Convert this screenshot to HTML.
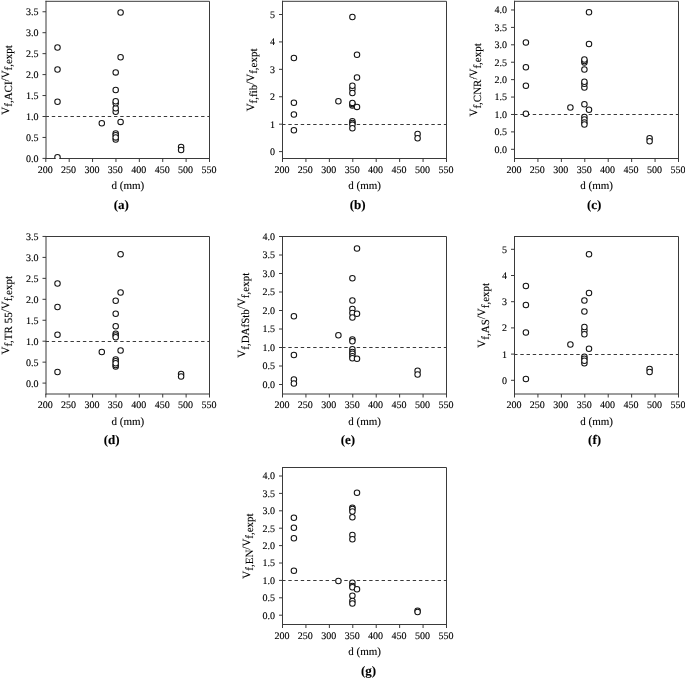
<!DOCTYPE html>
<html><head><meta charset="utf-8"><style>
html,body{margin:0;padding:0;background:#fff;}
svg{display:block;will-change:transform;}
text{font-family:"Liberation Serif",serif;fill:#000;stroke:#000;stroke-width:0.12px;text-rendering:geometricPrecision;}
</style></head><body>
<svg width="685" height="679" viewBox="0 0 685 679">
<rect width="685" height="679" fill="#fff"/>
<g><clipPath id="ca"><rect x="45.50" y="0.80" width="164.50" height="158.20"/></clipPath><line x1="45.60" y1="116.50" x2="209.50" y2="116.50" stroke="#3a3a3a" stroke-width="1" stroke-dasharray="3.4,2.82"/><path d="M45.50 1.30H209.50V159.00" fill="none" stroke="#3a3a3a" stroke-width="1"/><path d="M45.50 158.50H210.00" fill="none" stroke="#3a3a3a" stroke-width="1"/><path d="M46.00 0.80V159.00" fill="none" stroke="#3a3a3a" stroke-width="1"/><line x1="42.50" y1="158.40" x2="46.00" y2="158.40" stroke="#3a3a3a" stroke-width="1"/><text x="38.60" y="161.80" text-anchor="end" font-size="10">0.0</text><line x1="42.50" y1="137.45" x2="46.00" y2="137.45" stroke="#3a3a3a" stroke-width="1"/><text x="38.60" y="140.85" text-anchor="end" font-size="10">0.5</text><line x1="42.50" y1="116.50" x2="46.00" y2="116.50" stroke="#3a3a3a" stroke-width="1"/><text x="38.60" y="119.90" text-anchor="end" font-size="10">1.0</text><line x1="42.50" y1="95.55" x2="46.00" y2="95.55" stroke="#3a3a3a" stroke-width="1"/><text x="38.60" y="98.95" text-anchor="end" font-size="10">1.5</text><line x1="42.50" y1="74.60" x2="46.00" y2="74.60" stroke="#3a3a3a" stroke-width="1"/><text x="38.60" y="78.00" text-anchor="end" font-size="10">2.0</text><line x1="42.50" y1="53.65" x2="46.00" y2="53.65" stroke="#3a3a3a" stroke-width="1"/><text x="38.60" y="57.05" text-anchor="end" font-size="10">2.5</text><line x1="42.50" y1="32.70" x2="46.00" y2="32.70" stroke="#3a3a3a" stroke-width="1"/><text x="38.60" y="36.10" text-anchor="end" font-size="10">3.0</text><line x1="42.50" y1="11.75" x2="46.00" y2="11.75" stroke="#3a3a3a" stroke-width="1"/><text x="38.60" y="15.15" text-anchor="end" font-size="10">3.5</text><line x1="45.80" y1="158.50" x2="45.80" y2="162.00" stroke="#3a3a3a" stroke-width="1"/><text x="45.20" y="172.60" text-anchor="middle" font-size="10">200</text><line x1="69.19" y1="158.50" x2="69.19" y2="162.00" stroke="#3a3a3a" stroke-width="1"/><text x="68.59" y="172.60" text-anchor="middle" font-size="10">250</text><line x1="92.57" y1="158.50" x2="92.57" y2="162.00" stroke="#3a3a3a" stroke-width="1"/><text x="91.97" y="172.60" text-anchor="middle" font-size="10">300</text><line x1="115.96" y1="158.50" x2="115.96" y2="162.00" stroke="#3a3a3a" stroke-width="1"/><text x="115.36" y="172.60" text-anchor="middle" font-size="10">350</text><line x1="139.34" y1="158.50" x2="139.34" y2="162.00" stroke="#3a3a3a" stroke-width="1"/><text x="138.74" y="172.60" text-anchor="middle" font-size="10">400</text><line x1="162.73" y1="158.50" x2="162.73" y2="162.00" stroke="#3a3a3a" stroke-width="1"/><text x="162.13" y="172.60" text-anchor="middle" font-size="10">450</text><line x1="186.11" y1="158.50" x2="186.11" y2="162.00" stroke="#3a3a3a" stroke-width="1"/><text x="185.51" y="172.60" text-anchor="middle" font-size="10">500</text><line x1="209.50" y1="158.50" x2="209.50" y2="162.00" stroke="#3a3a3a" stroke-width="1"/><text x="208.90" y="172.60" text-anchor="middle" font-size="10">550</text><text x="127.95" y="189.00" text-anchor="middle" font-size="11">d (mm)</text><text x="121.30" y="208.60" text-anchor="middle" font-size="13" font-weight="bold">(a)</text><text transform="translate(8.80,79.90) rotate(-90)" text-anchor="middle" font-size="11">V<tspan font-size="11" dy="3.5">f,ACI</tspan><tspan dy="-3.5">/V</tspan><tspan font-size="11" dy="3.5">f,expt</tspan></text><g clip-path="url(#ca)"><circle cx="57.50" cy="47.50" r="2.74" fill="#fff" stroke="#151515" stroke-width="1.06"/><circle cx="57.50" cy="69.50" r="2.74" fill="#fff" stroke="#151515" stroke-width="1.06"/><circle cx="57.50" cy="101.75" r="2.74" fill="#fff" stroke="#151515" stroke-width="1.06"/><circle cx="57.50" cy="157.20" r="2.74" fill="#fff" stroke="#151515" stroke-width="1.06"/><circle cx="101.80" cy="123.20" r="2.74" fill="#fff" stroke="#151515" stroke-width="1.06"/><circle cx="115.70" cy="72.40" r="2.74" fill="#fff" stroke="#151515" stroke-width="1.06"/><circle cx="115.70" cy="90.00" r="2.74" fill="#fff" stroke="#151515" stroke-width="1.06"/><circle cx="115.70" cy="111.80" r="2.74" fill="#fff" stroke="#151515" stroke-width="1.06"/><circle cx="115.70" cy="108.30" r="2.74" fill="#fff" stroke="#151515" stroke-width="1.06"/><circle cx="115.70" cy="103.30" r="2.74" fill="#fff" stroke="#151515" stroke-width="1.06"/><circle cx="115.70" cy="101.20" r="2.74" fill="#fff" stroke="#151515" stroke-width="1.06"/><circle cx="115.70" cy="139.60" r="2.74" fill="#fff" stroke="#151515" stroke-width="1.06"/><circle cx="115.70" cy="133.40" r="2.74" fill="#fff" stroke="#151515" stroke-width="1.06"/><circle cx="115.70" cy="135.30" r="2.74" fill="#fff" stroke="#151515" stroke-width="1.06"/><circle cx="115.70" cy="137.40" r="2.74" fill="#fff" stroke="#151515" stroke-width="1.06"/><circle cx="120.60" cy="12.50" r="2.74" fill="#fff" stroke="#151515" stroke-width="1.06"/><circle cx="120.60" cy="57.25" r="2.74" fill="#fff" stroke="#151515" stroke-width="1.06"/><circle cx="120.60" cy="121.90" r="2.74" fill="#fff" stroke="#151515" stroke-width="1.06"/><circle cx="181.10" cy="147.00" r="2.74" fill="#fff" stroke="#151515" stroke-width="1.06"/><circle cx="181.10" cy="150.00" r="2.74" fill="#fff" stroke="#151515" stroke-width="1.06"/></g></g>
<g><clipPath id="cb"><rect x="282.00" y="0.80" width="165.00" height="158.20"/></clipPath><line x1="282.10" y1="124.50" x2="446.50" y2="124.50" stroke="#3a3a3a" stroke-width="1" stroke-dasharray="3.4,2.82"/><path d="M282.00 1.30H446.50V159.00" fill="none" stroke="#3a3a3a" stroke-width="1"/><path d="M282.00 158.50H447.00" fill="none" stroke="#3a3a3a" stroke-width="1"/><path d="M282.50 0.80V159.00" fill="none" stroke="#3a3a3a" stroke-width="1"/><line x1="279.00" y1="151.60" x2="282.50" y2="151.60" stroke="#3a3a3a" stroke-width="1"/><text x="275.10" y="155.00" text-anchor="end" font-size="10">0</text><line x1="279.00" y1="124.18" x2="282.50" y2="124.18" stroke="#3a3a3a" stroke-width="1"/><text x="275.10" y="127.58" text-anchor="end" font-size="10">1</text><line x1="279.00" y1="96.76" x2="282.50" y2="96.76" stroke="#3a3a3a" stroke-width="1"/><text x="275.10" y="100.16" text-anchor="end" font-size="10">2</text><line x1="279.00" y1="69.34" x2="282.50" y2="69.34" stroke="#3a3a3a" stroke-width="1"/><text x="275.10" y="72.74" text-anchor="end" font-size="10">3</text><line x1="279.00" y1="41.92" x2="282.50" y2="41.92" stroke="#3a3a3a" stroke-width="1"/><text x="275.10" y="45.32" text-anchor="end" font-size="10">4</text><line x1="279.00" y1="14.50" x2="282.50" y2="14.50" stroke="#3a3a3a" stroke-width="1"/><text x="275.10" y="17.90" text-anchor="end" font-size="10">5</text><line x1="282.50" y1="158.50" x2="282.50" y2="162.00" stroke="#3a3a3a" stroke-width="1"/><text x="281.90" y="172.60" text-anchor="middle" font-size="10">200</text><line x1="305.93" y1="158.50" x2="305.93" y2="162.00" stroke="#3a3a3a" stroke-width="1"/><text x="305.33" y="172.60" text-anchor="middle" font-size="10">250</text><line x1="329.36" y1="158.50" x2="329.36" y2="162.00" stroke="#3a3a3a" stroke-width="1"/><text x="328.76" y="172.60" text-anchor="middle" font-size="10">300</text><line x1="352.79" y1="158.50" x2="352.79" y2="162.00" stroke="#3a3a3a" stroke-width="1"/><text x="352.19" y="172.60" text-anchor="middle" font-size="10">350</text><line x1="376.21" y1="158.50" x2="376.21" y2="162.00" stroke="#3a3a3a" stroke-width="1"/><text x="375.61" y="172.60" text-anchor="middle" font-size="10">400</text><line x1="399.64" y1="158.50" x2="399.64" y2="162.00" stroke="#3a3a3a" stroke-width="1"/><text x="399.04" y="172.60" text-anchor="middle" font-size="10">450</text><line x1="423.07" y1="158.50" x2="423.07" y2="162.00" stroke="#3a3a3a" stroke-width="1"/><text x="422.47" y="172.60" text-anchor="middle" font-size="10">500</text><line x1="446.50" y1="158.50" x2="446.50" y2="162.00" stroke="#3a3a3a" stroke-width="1"/><text x="445.90" y="172.60" text-anchor="middle" font-size="10">550</text><text x="364.70" y="189.00" text-anchor="middle" font-size="11">d (mm)</text><text x="357.70" y="208.60" text-anchor="middle" font-size="13" font-weight="bold">(b)</text><text transform="translate(253.85,79.90) rotate(-90)" text-anchor="middle" font-size="11">V<tspan font-size="11" dy="3.5">f,fib</tspan><tspan dy="-3.5">/V</tspan><tspan font-size="11" dy="3.5">f,expt</tspan></text><g clip-path="url(#cb)"><circle cx="293.90" cy="58.00" r="2.74" fill="#fff" stroke="#151515" stroke-width="1.06"/><circle cx="293.90" cy="102.75" r="2.74" fill="#fff" stroke="#151515" stroke-width="1.06"/><circle cx="293.90" cy="114.50" r="2.74" fill="#fff" stroke="#151515" stroke-width="1.06"/><circle cx="293.90" cy="130.25" r="2.74" fill="#fff" stroke="#151515" stroke-width="1.06"/><circle cx="338.40" cy="101.20" r="2.74" fill="#fff" stroke="#151515" stroke-width="1.06"/><circle cx="352.40" cy="17.00" r="2.74" fill="#fff" stroke="#151515" stroke-width="1.06"/><circle cx="352.40" cy="89.00" r="2.74" fill="#fff" stroke="#151515" stroke-width="1.06"/><circle cx="352.40" cy="93.00" r="2.74" fill="#fff" stroke="#151515" stroke-width="1.06"/><circle cx="352.40" cy="85.80" r="2.74" fill="#fff" stroke="#151515" stroke-width="1.06"/><circle cx="352.40" cy="105.40" r="2.74" fill="#fff" stroke="#151515" stroke-width="1.06"/><circle cx="352.40" cy="104.10" r="2.74" fill="#fff" stroke="#151515" stroke-width="1.06"/><circle cx="352.40" cy="102.90" r="2.74" fill="#fff" stroke="#151515" stroke-width="1.06"/><circle cx="352.40" cy="121.20" r="2.74" fill="#fff" stroke="#151515" stroke-width="1.06"/><circle cx="352.40" cy="123.00" r="2.74" fill="#fff" stroke="#151515" stroke-width="1.06"/><circle cx="352.40" cy="124.60" r="2.74" fill="#fff" stroke="#151515" stroke-width="1.06"/><circle cx="352.40" cy="128.30" r="2.74" fill="#fff" stroke="#151515" stroke-width="1.06"/><circle cx="357.00" cy="54.75" r="2.74" fill="#fff" stroke="#151515" stroke-width="1.06"/><circle cx="357.00" cy="77.50" r="2.74" fill="#fff" stroke="#151515" stroke-width="1.06"/><circle cx="357.00" cy="106.90" r="2.74" fill="#fff" stroke="#151515" stroke-width="1.06"/><circle cx="417.60" cy="134.00" r="2.74" fill="#fff" stroke="#151515" stroke-width="1.06"/><circle cx="417.60" cy="138.25" r="2.74" fill="#fff" stroke="#151515" stroke-width="1.06"/></g></g>
<g><clipPath id="cc"><rect x="514.00" y="0.80" width="165.00" height="158.20"/></clipPath><line x1="514.10" y1="114.50" x2="678.50" y2="114.50" stroke="#3a3a3a" stroke-width="1" stroke-dasharray="3.4,2.82"/><path d="M514.00 1.30H678.50V159.00" fill="none" stroke="#3a3a3a" stroke-width="1"/><path d="M514.00 158.50H679.00" fill="none" stroke="#3a3a3a" stroke-width="1"/><path d="M514.50 0.80V159.00" fill="none" stroke="#3a3a3a" stroke-width="1"/><line x1="511.00" y1="149.30" x2="514.50" y2="149.30" stroke="#3a3a3a" stroke-width="1"/><text x="507.10" y="152.70" text-anchor="end" font-size="10">0.0</text><line x1="511.00" y1="131.89" x2="514.50" y2="131.89" stroke="#3a3a3a" stroke-width="1"/><text x="507.10" y="135.29" text-anchor="end" font-size="10">0.5</text><line x1="511.00" y1="114.47" x2="514.50" y2="114.47" stroke="#3a3a3a" stroke-width="1"/><text x="507.10" y="117.87" text-anchor="end" font-size="10">1.0</text><line x1="511.00" y1="97.06" x2="514.50" y2="97.06" stroke="#3a3a3a" stroke-width="1"/><text x="507.10" y="100.46" text-anchor="end" font-size="10">1.5</text><line x1="511.00" y1="79.64" x2="514.50" y2="79.64" stroke="#3a3a3a" stroke-width="1"/><text x="507.10" y="83.04" text-anchor="end" font-size="10">2.0</text><line x1="511.00" y1="62.23" x2="514.50" y2="62.23" stroke="#3a3a3a" stroke-width="1"/><text x="507.10" y="65.63" text-anchor="end" font-size="10">2.5</text><line x1="511.00" y1="44.81" x2="514.50" y2="44.81" stroke="#3a3a3a" stroke-width="1"/><text x="507.10" y="48.21" text-anchor="end" font-size="10">3.0</text><line x1="511.00" y1="27.40" x2="514.50" y2="27.40" stroke="#3a3a3a" stroke-width="1"/><text x="507.10" y="30.80" text-anchor="end" font-size="10">3.5</text><line x1="511.00" y1="9.98" x2="514.50" y2="9.98" stroke="#3a3a3a" stroke-width="1"/><text x="507.10" y="13.38" text-anchor="end" font-size="10">4.0</text><line x1="514.50" y1="158.50" x2="514.50" y2="162.00" stroke="#3a3a3a" stroke-width="1"/><text x="513.90" y="172.60" text-anchor="middle" font-size="10">200</text><line x1="537.93" y1="158.50" x2="537.93" y2="162.00" stroke="#3a3a3a" stroke-width="1"/><text x="537.33" y="172.60" text-anchor="middle" font-size="10">250</text><line x1="561.36" y1="158.50" x2="561.36" y2="162.00" stroke="#3a3a3a" stroke-width="1"/><text x="560.76" y="172.60" text-anchor="middle" font-size="10">300</text><line x1="584.79" y1="158.50" x2="584.79" y2="162.00" stroke="#3a3a3a" stroke-width="1"/><text x="584.19" y="172.60" text-anchor="middle" font-size="10">350</text><line x1="608.21" y1="158.50" x2="608.21" y2="162.00" stroke="#3a3a3a" stroke-width="1"/><text x="607.61" y="172.60" text-anchor="middle" font-size="10">400</text><line x1="631.64" y1="158.50" x2="631.64" y2="162.00" stroke="#3a3a3a" stroke-width="1"/><text x="631.04" y="172.60" text-anchor="middle" font-size="10">450</text><line x1="655.07" y1="158.50" x2="655.07" y2="162.00" stroke="#3a3a3a" stroke-width="1"/><text x="654.47" y="172.60" text-anchor="middle" font-size="10">500</text><line x1="678.50" y1="158.50" x2="678.50" y2="162.00" stroke="#3a3a3a" stroke-width="1"/><text x="677.90" y="172.60" text-anchor="middle" font-size="10">550</text><text x="596.70" y="189.00" text-anchor="middle" font-size="11">d (mm)</text><text x="594.10" y="208.60" text-anchor="middle" font-size="13" font-weight="bold">(c)</text><text transform="translate(477.00,79.90) rotate(-90)" text-anchor="middle" font-size="11">V<tspan font-size="11" dy="3.5">f,CNR</tspan><tspan dy="-3.5">/V</tspan><tspan font-size="11" dy="3.5">f,expt</tspan></text><g clip-path="url(#cc)"><circle cx="525.90" cy="42.50" r="2.74" fill="#fff" stroke="#151515" stroke-width="1.06"/><circle cx="525.90" cy="67.25" r="2.74" fill="#fff" stroke="#151515" stroke-width="1.06"/><circle cx="525.90" cy="85.75" r="2.74" fill="#fff" stroke="#151515" stroke-width="1.06"/><circle cx="525.90" cy="113.75" r="2.74" fill="#fff" stroke="#151515" stroke-width="1.06"/><circle cx="570.40" cy="107.50" r="2.74" fill="#fff" stroke="#151515" stroke-width="1.06"/><circle cx="584.40" cy="62.50" r="2.74" fill="#fff" stroke="#151515" stroke-width="1.06"/><circle cx="584.40" cy="61.00" r="2.74" fill="#fff" stroke="#151515" stroke-width="1.06"/><circle cx="584.40" cy="59.50" r="2.74" fill="#fff" stroke="#151515" stroke-width="1.06"/><circle cx="584.40" cy="69.50" r="2.74" fill="#fff" stroke="#151515" stroke-width="1.06"/><circle cx="584.40" cy="87.50" r="2.74" fill="#fff" stroke="#151515" stroke-width="1.06"/><circle cx="584.40" cy="83.75" r="2.74" fill="#fff" stroke="#151515" stroke-width="1.06"/><circle cx="584.40" cy="81.75" r="2.74" fill="#fff" stroke="#151515" stroke-width="1.06"/><circle cx="584.40" cy="104.25" r="2.74" fill="#fff" stroke="#151515" stroke-width="1.06"/><circle cx="584.40" cy="117.00" r="2.74" fill="#fff" stroke="#151515" stroke-width="1.06"/><circle cx="584.40" cy="119.50" r="2.74" fill="#fff" stroke="#151515" stroke-width="1.06"/><circle cx="584.40" cy="122.50" r="2.74" fill="#fff" stroke="#151515" stroke-width="1.06"/><circle cx="584.40" cy="124.50" r="2.74" fill="#fff" stroke="#151515" stroke-width="1.06"/><circle cx="589.00" cy="12.25" r="2.74" fill="#fff" stroke="#151515" stroke-width="1.06"/><circle cx="589.00" cy="44.00" r="2.74" fill="#fff" stroke="#151515" stroke-width="1.06"/><circle cx="589.00" cy="109.75" r="2.74" fill="#fff" stroke="#151515" stroke-width="1.06"/><circle cx="649.60" cy="138.20" r="2.74" fill="#fff" stroke="#151515" stroke-width="1.06"/><circle cx="649.60" cy="141.20" r="2.74" fill="#fff" stroke="#151515" stroke-width="1.06"/></g></g>
<g><clipPath id="cd"><rect x="45.50" y="236.00" width="164.50" height="158.50"/></clipPath><line x1="45.60" y1="341.50" x2="209.50" y2="341.50" stroke="#3a3a3a" stroke-width="1" stroke-dasharray="3.4,2.82"/><path d="M45.50 236.50H209.50V394.50" fill="none" stroke="#3a3a3a" stroke-width="1"/><path d="M45.50 394.00H210.00" fill="none" stroke="#3a3a3a" stroke-width="1"/><path d="M46.00 236.00V394.50" fill="none" stroke="#3a3a3a" stroke-width="1"/><line x1="42.50" y1="383.10" x2="46.00" y2="383.10" stroke="#3a3a3a" stroke-width="1"/><text x="38.60" y="386.50" text-anchor="end" font-size="10">0.0</text><line x1="42.50" y1="362.15" x2="46.00" y2="362.15" stroke="#3a3a3a" stroke-width="1"/><text x="38.60" y="365.55" text-anchor="end" font-size="10">0.5</text><line x1="42.50" y1="341.20" x2="46.00" y2="341.20" stroke="#3a3a3a" stroke-width="1"/><text x="38.60" y="344.60" text-anchor="end" font-size="10">1.0</text><line x1="42.50" y1="320.25" x2="46.00" y2="320.25" stroke="#3a3a3a" stroke-width="1"/><text x="38.60" y="323.65" text-anchor="end" font-size="10">1.5</text><line x1="42.50" y1="299.30" x2="46.00" y2="299.30" stroke="#3a3a3a" stroke-width="1"/><text x="38.60" y="302.70" text-anchor="end" font-size="10">2.0</text><line x1="42.50" y1="278.35" x2="46.00" y2="278.35" stroke="#3a3a3a" stroke-width="1"/><text x="38.60" y="281.75" text-anchor="end" font-size="10">2.5</text><line x1="42.50" y1="257.40" x2="46.00" y2="257.40" stroke="#3a3a3a" stroke-width="1"/><text x="38.60" y="260.80" text-anchor="end" font-size="10">3.0</text><line x1="42.50" y1="236.45" x2="46.00" y2="236.45" stroke="#3a3a3a" stroke-width="1"/><text x="38.60" y="239.85" text-anchor="end" font-size="10">3.5</text><line x1="45.80" y1="394.00" x2="45.80" y2="397.50" stroke="#3a3a3a" stroke-width="1"/><text x="45.20" y="408.10" text-anchor="middle" font-size="10">200</text><line x1="69.19" y1="394.00" x2="69.19" y2="397.50" stroke="#3a3a3a" stroke-width="1"/><text x="68.59" y="408.10" text-anchor="middle" font-size="10">250</text><line x1="92.57" y1="394.00" x2="92.57" y2="397.50" stroke="#3a3a3a" stroke-width="1"/><text x="91.97" y="408.10" text-anchor="middle" font-size="10">300</text><line x1="115.96" y1="394.00" x2="115.96" y2="397.50" stroke="#3a3a3a" stroke-width="1"/><text x="115.36" y="408.10" text-anchor="middle" font-size="10">350</text><line x1="139.34" y1="394.00" x2="139.34" y2="397.50" stroke="#3a3a3a" stroke-width="1"/><text x="138.74" y="408.10" text-anchor="middle" font-size="10">400</text><line x1="162.73" y1="394.00" x2="162.73" y2="397.50" stroke="#3a3a3a" stroke-width="1"/><text x="162.13" y="408.10" text-anchor="middle" font-size="10">450</text><line x1="186.11" y1="394.00" x2="186.11" y2="397.50" stroke="#3a3a3a" stroke-width="1"/><text x="185.51" y="408.10" text-anchor="middle" font-size="10">500</text><line x1="209.50" y1="394.00" x2="209.50" y2="397.50" stroke="#3a3a3a" stroke-width="1"/><text x="208.90" y="408.10" text-anchor="middle" font-size="10">550</text><text x="127.95" y="424.50" text-anchor="middle" font-size="11">d (mm)</text><text x="111.60" y="444.10" text-anchor="middle" font-size="13" font-weight="bold">(d)</text><text transform="translate(8.80,315.25) rotate(-90)" text-anchor="middle" font-size="11">V<tspan font-size="11" dy="3.5">f,TR 55</tspan><tspan dy="-3.5">/V</tspan><tspan font-size="11" dy="3.5">f,expt</tspan></text><g clip-path="url(#cd)"><circle cx="57.50" cy="283.50" r="2.74" fill="#fff" stroke="#151515" stroke-width="1.06"/><circle cx="57.50" cy="307.00" r="2.74" fill="#fff" stroke="#151515" stroke-width="1.06"/><circle cx="57.50" cy="334.75" r="2.74" fill="#fff" stroke="#151515" stroke-width="1.06"/><circle cx="57.50" cy="372.00" r="2.74" fill="#fff" stroke="#151515" stroke-width="1.06"/><circle cx="101.80" cy="352.00" r="2.74" fill="#fff" stroke="#151515" stroke-width="1.06"/><circle cx="115.70" cy="300.75" r="2.74" fill="#fff" stroke="#151515" stroke-width="1.06"/><circle cx="115.70" cy="313.75" r="2.74" fill="#fff" stroke="#151515" stroke-width="1.06"/><circle cx="115.70" cy="326.25" r="2.74" fill="#fff" stroke="#151515" stroke-width="1.06"/><circle cx="115.70" cy="333.75" r="2.74" fill="#fff" stroke="#151515" stroke-width="1.06"/><circle cx="115.70" cy="335.50" r="2.74" fill="#fff" stroke="#151515" stroke-width="1.06"/><circle cx="115.70" cy="337.25" r="2.74" fill="#fff" stroke="#151515" stroke-width="1.06"/><circle cx="115.70" cy="366.50" r="2.74" fill="#fff" stroke="#151515" stroke-width="1.06"/><circle cx="115.70" cy="365.00" r="2.74" fill="#fff" stroke="#151515" stroke-width="1.06"/><circle cx="115.70" cy="359.50" r="2.74" fill="#fff" stroke="#151515" stroke-width="1.06"/><circle cx="115.70" cy="361.25" r="2.74" fill="#fff" stroke="#151515" stroke-width="1.06"/><circle cx="115.70" cy="363.20" r="2.74" fill="#fff" stroke="#151515" stroke-width="1.06"/><circle cx="120.60" cy="254.25" r="2.74" fill="#fff" stroke="#151515" stroke-width="1.06"/><circle cx="120.60" cy="292.50" r="2.74" fill="#fff" stroke="#151515" stroke-width="1.06"/><circle cx="120.60" cy="350.50" r="2.74" fill="#fff" stroke="#151515" stroke-width="1.06"/><circle cx="181.10" cy="374.00" r="2.74" fill="#fff" stroke="#151515" stroke-width="1.06"/><circle cx="181.10" cy="376.50" r="2.74" fill="#fff" stroke="#151515" stroke-width="1.06"/></g></g>
<g><clipPath id="ce"><rect x="282.00" y="236.00" width="165.00" height="158.50"/></clipPath><line x1="282.10" y1="347.50" x2="446.50" y2="347.50" stroke="#3a3a3a" stroke-width="1" stroke-dasharray="3.4,2.82"/><path d="M282.00 236.50H446.50V394.50" fill="none" stroke="#3a3a3a" stroke-width="1"/><path d="M282.00 394.00H447.00" fill="none" stroke="#3a3a3a" stroke-width="1"/><path d="M282.50 236.00V394.50" fill="none" stroke="#3a3a3a" stroke-width="1"/><line x1="279.00" y1="384.50" x2="282.50" y2="384.50" stroke="#3a3a3a" stroke-width="1"/><text x="275.10" y="387.90" text-anchor="end" font-size="10">0.0</text><line x1="279.00" y1="366.00" x2="282.50" y2="366.00" stroke="#3a3a3a" stroke-width="1"/><text x="275.10" y="369.40" text-anchor="end" font-size="10">0.5</text><line x1="279.00" y1="347.50" x2="282.50" y2="347.50" stroke="#3a3a3a" stroke-width="1"/><text x="275.10" y="350.90" text-anchor="end" font-size="10">1.0</text><line x1="279.00" y1="329.00" x2="282.50" y2="329.00" stroke="#3a3a3a" stroke-width="1"/><text x="275.10" y="332.40" text-anchor="end" font-size="10">1.5</text><line x1="279.00" y1="310.50" x2="282.50" y2="310.50" stroke="#3a3a3a" stroke-width="1"/><text x="275.10" y="313.90" text-anchor="end" font-size="10">2.0</text><line x1="279.00" y1="292.00" x2="282.50" y2="292.00" stroke="#3a3a3a" stroke-width="1"/><text x="275.10" y="295.40" text-anchor="end" font-size="10">2.5</text><line x1="279.00" y1="273.50" x2="282.50" y2="273.50" stroke="#3a3a3a" stroke-width="1"/><text x="275.10" y="276.90" text-anchor="end" font-size="10">3.0</text><line x1="279.00" y1="255.00" x2="282.50" y2="255.00" stroke="#3a3a3a" stroke-width="1"/><text x="275.10" y="258.40" text-anchor="end" font-size="10">3.5</text><line x1="279.00" y1="236.50" x2="282.50" y2="236.50" stroke="#3a3a3a" stroke-width="1"/><text x="275.10" y="239.90" text-anchor="end" font-size="10">4.0</text><line x1="282.50" y1="394.00" x2="282.50" y2="397.50" stroke="#3a3a3a" stroke-width="1"/><text x="281.90" y="408.10" text-anchor="middle" font-size="10">200</text><line x1="305.93" y1="394.00" x2="305.93" y2="397.50" stroke="#3a3a3a" stroke-width="1"/><text x="305.33" y="408.10" text-anchor="middle" font-size="10">250</text><line x1="329.36" y1="394.00" x2="329.36" y2="397.50" stroke="#3a3a3a" stroke-width="1"/><text x="328.76" y="408.10" text-anchor="middle" font-size="10">300</text><line x1="352.79" y1="394.00" x2="352.79" y2="397.50" stroke="#3a3a3a" stroke-width="1"/><text x="352.19" y="408.10" text-anchor="middle" font-size="10">350</text><line x1="376.21" y1="394.00" x2="376.21" y2="397.50" stroke="#3a3a3a" stroke-width="1"/><text x="375.61" y="408.10" text-anchor="middle" font-size="10">400</text><line x1="399.64" y1="394.00" x2="399.64" y2="397.50" stroke="#3a3a3a" stroke-width="1"/><text x="399.04" y="408.10" text-anchor="middle" font-size="10">450</text><line x1="423.07" y1="394.00" x2="423.07" y2="397.50" stroke="#3a3a3a" stroke-width="1"/><text x="422.47" y="408.10" text-anchor="middle" font-size="10">500</text><line x1="446.50" y1="394.00" x2="446.50" y2="397.50" stroke="#3a3a3a" stroke-width="1"/><text x="445.90" y="408.10" text-anchor="middle" font-size="10">550</text><text x="364.70" y="424.50" text-anchor="middle" font-size="11">d (mm)</text><text x="347.90" y="444.10" text-anchor="middle" font-size="13" font-weight="bold">(e)</text><text transform="translate(245.30,315.25) rotate(-90)" text-anchor="middle" font-size="11">V<tspan font-size="11" dy="3.5">f,DAfStb</tspan><tspan dy="-3.5">/V</tspan><tspan font-size="11" dy="3.5">f,expt</tspan></text><g clip-path="url(#ce)"><circle cx="293.90" cy="316.25" r="2.74" fill="#fff" stroke="#151515" stroke-width="1.06"/><circle cx="293.90" cy="355.00" r="2.74" fill="#fff" stroke="#151515" stroke-width="1.06"/><circle cx="293.90" cy="379.50" r="2.74" fill="#fff" stroke="#151515" stroke-width="1.06"/><circle cx="293.90" cy="383.50" r="2.74" fill="#fff" stroke="#151515" stroke-width="1.06"/><circle cx="338.40" cy="335.25" r="2.74" fill="#fff" stroke="#151515" stroke-width="1.06"/><circle cx="352.40" cy="278.25" r="2.74" fill="#fff" stroke="#151515" stroke-width="1.06"/><circle cx="352.40" cy="300.50" r="2.74" fill="#fff" stroke="#151515" stroke-width="1.06"/><circle cx="352.40" cy="309.00" r="2.74" fill="#fff" stroke="#151515" stroke-width="1.06"/><circle cx="352.40" cy="313.00" r="2.74" fill="#fff" stroke="#151515" stroke-width="1.06"/><circle cx="352.40" cy="317.50" r="2.74" fill="#fff" stroke="#151515" stroke-width="1.06"/><circle cx="352.40" cy="339.50" r="2.74" fill="#fff" stroke="#151515" stroke-width="1.06"/><circle cx="352.40" cy="341.25" r="2.74" fill="#fff" stroke="#151515" stroke-width="1.06"/><circle cx="352.40" cy="349.25" r="2.74" fill="#fff" stroke="#151515" stroke-width="1.06"/><circle cx="352.40" cy="352.00" r="2.74" fill="#fff" stroke="#151515" stroke-width="1.06"/><circle cx="352.40" cy="353.75" r="2.74" fill="#fff" stroke="#151515" stroke-width="1.06"/><circle cx="352.40" cy="356.25" r="2.74" fill="#fff" stroke="#151515" stroke-width="1.06"/><circle cx="352.40" cy="358.25" r="2.74" fill="#fff" stroke="#151515" stroke-width="1.06"/><circle cx="357.00" cy="248.50" r="2.74" fill="#fff" stroke="#151515" stroke-width="1.06"/><circle cx="357.00" cy="313.75" r="2.74" fill="#fff" stroke="#151515" stroke-width="1.06"/><circle cx="357.00" cy="358.75" r="2.74" fill="#fff" stroke="#151515" stroke-width="1.06"/><circle cx="417.60" cy="370.75" r="2.74" fill="#fff" stroke="#151515" stroke-width="1.06"/><circle cx="417.60" cy="374.50" r="2.74" fill="#fff" stroke="#151515" stroke-width="1.06"/></g></g>
<g><clipPath id="cf"><rect x="514.00" y="236.00" width="165.00" height="158.50"/></clipPath><line x1="514.10" y1="354.50" x2="678.50" y2="354.50" stroke="#3a3a3a" stroke-width="1" stroke-dasharray="3.4,2.82"/><path d="M514.00 236.50H678.50V394.50" fill="none" stroke="#3a3a3a" stroke-width="1"/><path d="M514.00 394.00H679.00" fill="none" stroke="#3a3a3a" stroke-width="1"/><path d="M514.50 236.00V394.50" fill="none" stroke="#3a3a3a" stroke-width="1"/><line x1="511.00" y1="380.30" x2="514.50" y2="380.30" stroke="#3a3a3a" stroke-width="1"/><text x="507.10" y="383.70" text-anchor="end" font-size="10">0</text><line x1="511.00" y1="354.10" x2="514.50" y2="354.10" stroke="#3a3a3a" stroke-width="1"/><text x="507.10" y="357.50" text-anchor="end" font-size="10">1</text><line x1="511.00" y1="327.90" x2="514.50" y2="327.90" stroke="#3a3a3a" stroke-width="1"/><text x="507.10" y="331.30" text-anchor="end" font-size="10">2</text><line x1="511.00" y1="301.70" x2="514.50" y2="301.70" stroke="#3a3a3a" stroke-width="1"/><text x="507.10" y="305.10" text-anchor="end" font-size="10">3</text><line x1="511.00" y1="275.50" x2="514.50" y2="275.50" stroke="#3a3a3a" stroke-width="1"/><text x="507.10" y="278.90" text-anchor="end" font-size="10">4</text><line x1="511.00" y1="249.30" x2="514.50" y2="249.30" stroke="#3a3a3a" stroke-width="1"/><text x="507.10" y="252.70" text-anchor="end" font-size="10">5</text><line x1="514.50" y1="394.00" x2="514.50" y2="397.50" stroke="#3a3a3a" stroke-width="1"/><text x="513.90" y="408.10" text-anchor="middle" font-size="10">200</text><line x1="537.93" y1="394.00" x2="537.93" y2="397.50" stroke="#3a3a3a" stroke-width="1"/><text x="537.33" y="408.10" text-anchor="middle" font-size="10">250</text><line x1="561.36" y1="394.00" x2="561.36" y2="397.50" stroke="#3a3a3a" stroke-width="1"/><text x="560.76" y="408.10" text-anchor="middle" font-size="10">300</text><line x1="584.79" y1="394.00" x2="584.79" y2="397.50" stroke="#3a3a3a" stroke-width="1"/><text x="584.19" y="408.10" text-anchor="middle" font-size="10">350</text><line x1="608.21" y1="394.00" x2="608.21" y2="397.50" stroke="#3a3a3a" stroke-width="1"/><text x="607.61" y="408.10" text-anchor="middle" font-size="10">400</text><line x1="631.64" y1="394.00" x2="631.64" y2="397.50" stroke="#3a3a3a" stroke-width="1"/><text x="631.04" y="408.10" text-anchor="middle" font-size="10">450</text><line x1="655.07" y1="394.00" x2="655.07" y2="397.50" stroke="#3a3a3a" stroke-width="1"/><text x="654.47" y="408.10" text-anchor="middle" font-size="10">500</text><line x1="678.50" y1="394.00" x2="678.50" y2="397.50" stroke="#3a3a3a" stroke-width="1"/><text x="677.90" y="408.10" text-anchor="middle" font-size="10">550</text><text x="596.70" y="424.50" text-anchor="middle" font-size="11">d (mm)</text><text x="594.60" y="444.10" text-anchor="middle" font-size="13" font-weight="bold">(f)</text><text transform="translate(485.30,315.25) rotate(-90)" text-anchor="middle" font-size="11">V<tspan font-size="11" dy="3.5">f,AS</tspan><tspan dy="-3.5">/V</tspan><tspan font-size="11" dy="3.5">f,expt</tspan></text><g clip-path="url(#cf)"><circle cx="525.90" cy="286.00" r="2.74" fill="#fff" stroke="#151515" stroke-width="1.06"/><circle cx="525.90" cy="305.00" r="2.74" fill="#fff" stroke="#151515" stroke-width="1.06"/><circle cx="525.90" cy="332.50" r="2.74" fill="#fff" stroke="#151515" stroke-width="1.06"/><circle cx="525.90" cy="379.00" r="2.74" fill="#fff" stroke="#151515" stroke-width="1.06"/><circle cx="570.40" cy="344.50" r="2.74" fill="#fff" stroke="#151515" stroke-width="1.06"/><circle cx="584.40" cy="300.50" r="2.74" fill="#fff" stroke="#151515" stroke-width="1.06"/><circle cx="584.40" cy="311.50" r="2.74" fill="#fff" stroke="#151515" stroke-width="1.06"/><circle cx="584.40" cy="330.50" r="2.74" fill="#fff" stroke="#151515" stroke-width="1.06"/><circle cx="584.40" cy="334.25" r="2.74" fill="#fff" stroke="#151515" stroke-width="1.06"/><circle cx="584.40" cy="327.00" r="2.74" fill="#fff" stroke="#151515" stroke-width="1.06"/><circle cx="584.40" cy="363.20" r="2.74" fill="#fff" stroke="#151515" stroke-width="1.06"/><circle cx="584.40" cy="356.75" r="2.74" fill="#fff" stroke="#151515" stroke-width="1.06"/><circle cx="584.40" cy="358.75" r="2.74" fill="#fff" stroke="#151515" stroke-width="1.06"/><circle cx="584.40" cy="360.75" r="2.74" fill="#fff" stroke="#151515" stroke-width="1.06"/><circle cx="589.00" cy="254.25" r="2.74" fill="#fff" stroke="#151515" stroke-width="1.06"/><circle cx="589.00" cy="293.00" r="2.74" fill="#fff" stroke="#151515" stroke-width="1.06"/><circle cx="589.00" cy="348.75" r="2.74" fill="#fff" stroke="#151515" stroke-width="1.06"/><circle cx="649.60" cy="369.00" r="2.74" fill="#fff" stroke="#151515" stroke-width="1.06"/><circle cx="649.60" cy="372.00" r="2.74" fill="#fff" stroke="#151515" stroke-width="1.06"/></g></g>
<g><clipPath id="cg"><rect x="282.00" y="467.00" width="165.00" height="158.00"/></clipPath><line x1="282.10" y1="580.50" x2="446.50" y2="580.50" stroke="#3a3a3a" stroke-width="1" stroke-dasharray="3.4,2.82"/><path d="M282.00 467.50H446.50V625.00" fill="none" stroke="#3a3a3a" stroke-width="1"/><path d="M282.00 624.50H447.00" fill="none" stroke="#3a3a3a" stroke-width="1"/><path d="M282.50 467.00V625.00" fill="none" stroke="#3a3a3a" stroke-width="1"/><line x1="279.00" y1="615.20" x2="282.50" y2="615.20" stroke="#3a3a3a" stroke-width="1"/><text x="275.10" y="618.60" text-anchor="end" font-size="10">0.0</text><line x1="279.00" y1="597.80" x2="282.50" y2="597.80" stroke="#3a3a3a" stroke-width="1"/><text x="275.10" y="601.20" text-anchor="end" font-size="10">0.5</text><line x1="279.00" y1="580.40" x2="282.50" y2="580.40" stroke="#3a3a3a" stroke-width="1"/><text x="275.10" y="583.80" text-anchor="end" font-size="10">1.0</text><line x1="279.00" y1="563.00" x2="282.50" y2="563.00" stroke="#3a3a3a" stroke-width="1"/><text x="275.10" y="566.40" text-anchor="end" font-size="10">1.5</text><line x1="279.00" y1="545.60" x2="282.50" y2="545.60" stroke="#3a3a3a" stroke-width="1"/><text x="275.10" y="549.00" text-anchor="end" font-size="10">2.0</text><line x1="279.00" y1="528.20" x2="282.50" y2="528.20" stroke="#3a3a3a" stroke-width="1"/><text x="275.10" y="531.60" text-anchor="end" font-size="10">2.5</text><line x1="279.00" y1="510.80" x2="282.50" y2="510.80" stroke="#3a3a3a" stroke-width="1"/><text x="275.10" y="514.20" text-anchor="end" font-size="10">3.0</text><line x1="279.00" y1="493.40" x2="282.50" y2="493.40" stroke="#3a3a3a" stroke-width="1"/><text x="275.10" y="496.80" text-anchor="end" font-size="10">3.5</text><line x1="279.00" y1="476.00" x2="282.50" y2="476.00" stroke="#3a3a3a" stroke-width="1"/><text x="275.10" y="479.40" text-anchor="end" font-size="10">4.0</text><line x1="282.50" y1="624.50" x2="282.50" y2="628.00" stroke="#3a3a3a" stroke-width="1"/><text x="281.90" y="638.60" text-anchor="middle" font-size="10">200</text><line x1="305.93" y1="624.50" x2="305.93" y2="628.00" stroke="#3a3a3a" stroke-width="1"/><text x="305.33" y="638.60" text-anchor="middle" font-size="10">250</text><line x1="329.36" y1="624.50" x2="329.36" y2="628.00" stroke="#3a3a3a" stroke-width="1"/><text x="328.76" y="638.60" text-anchor="middle" font-size="10">300</text><line x1="352.79" y1="624.50" x2="352.79" y2="628.00" stroke="#3a3a3a" stroke-width="1"/><text x="352.19" y="638.60" text-anchor="middle" font-size="10">350</text><line x1="376.21" y1="624.50" x2="376.21" y2="628.00" stroke="#3a3a3a" stroke-width="1"/><text x="375.61" y="638.60" text-anchor="middle" font-size="10">400</text><line x1="399.64" y1="624.50" x2="399.64" y2="628.00" stroke="#3a3a3a" stroke-width="1"/><text x="399.04" y="638.60" text-anchor="middle" font-size="10">450</text><line x1="423.07" y1="624.50" x2="423.07" y2="628.00" stroke="#3a3a3a" stroke-width="1"/><text x="422.47" y="638.60" text-anchor="middle" font-size="10">500</text><line x1="446.50" y1="624.50" x2="446.50" y2="628.00" stroke="#3a3a3a" stroke-width="1"/><text x="445.90" y="638.60" text-anchor="middle" font-size="10">550</text><text x="364.70" y="655.00" text-anchor="middle" font-size="11">d (mm)</text><text x="368.60" y="674.60" text-anchor="middle" font-size="13" font-weight="bold">(g)</text><text transform="translate(249.50,546.00) rotate(-90)" text-anchor="middle" font-size="11">V<tspan font-size="11" dy="3.5">f,EN</tspan><tspan dy="-3.5">/V</tspan><tspan font-size="11" dy="3.5">f,expt</tspan></text><g clip-path="url(#cg)"><circle cx="293.90" cy="517.75" r="2.74" fill="#fff" stroke="#151515" stroke-width="1.06"/><circle cx="293.90" cy="527.75" r="2.74" fill="#fff" stroke="#151515" stroke-width="1.06"/><circle cx="293.90" cy="538.25" r="2.74" fill="#fff" stroke="#151515" stroke-width="1.06"/><circle cx="293.90" cy="570.75" r="2.74" fill="#fff" stroke="#151515" stroke-width="1.06"/><circle cx="338.40" cy="581.00" r="2.74" fill="#fff" stroke="#151515" stroke-width="1.06"/><circle cx="352.40" cy="507.75" r="2.74" fill="#fff" stroke="#151515" stroke-width="1.06"/><circle cx="352.40" cy="509.00" r="2.74" fill="#fff" stroke="#151515" stroke-width="1.06"/><circle cx="352.40" cy="511.50" r="2.74" fill="#fff" stroke="#151515" stroke-width="1.06"/><circle cx="352.40" cy="517.25" r="2.74" fill="#fff" stroke="#151515" stroke-width="1.06"/><circle cx="352.40" cy="535.00" r="2.74" fill="#fff" stroke="#151515" stroke-width="1.06"/><circle cx="352.40" cy="539.25" r="2.74" fill="#fff" stroke="#151515" stroke-width="1.06"/><circle cx="352.40" cy="582.75" r="2.74" fill="#fff" stroke="#151515" stroke-width="1.06"/><circle cx="352.40" cy="586.00" r="2.74" fill="#fff" stroke="#151515" stroke-width="1.06"/><circle cx="352.40" cy="587.25" r="2.74" fill="#fff" stroke="#151515" stroke-width="1.06"/><circle cx="352.40" cy="595.75" r="2.74" fill="#fff" stroke="#151515" stroke-width="1.06"/><circle cx="352.40" cy="601.00" r="2.74" fill="#fff" stroke="#151515" stroke-width="1.06"/><circle cx="352.40" cy="603.50" r="2.74" fill="#fff" stroke="#151515" stroke-width="1.06"/><circle cx="357.00" cy="492.75" r="2.74" fill="#fff" stroke="#151515" stroke-width="1.06"/><circle cx="357.00" cy="589.25" r="2.74" fill="#fff" stroke="#151515" stroke-width="1.06"/><circle cx="417.60" cy="610.75" r="2.74" fill="#fff" stroke="#151515" stroke-width="1.06"/><circle cx="417.60" cy="612.00" r="2.74" fill="#fff" stroke="#151515" stroke-width="1.06"/></g></g>
</svg>
</body></html>
